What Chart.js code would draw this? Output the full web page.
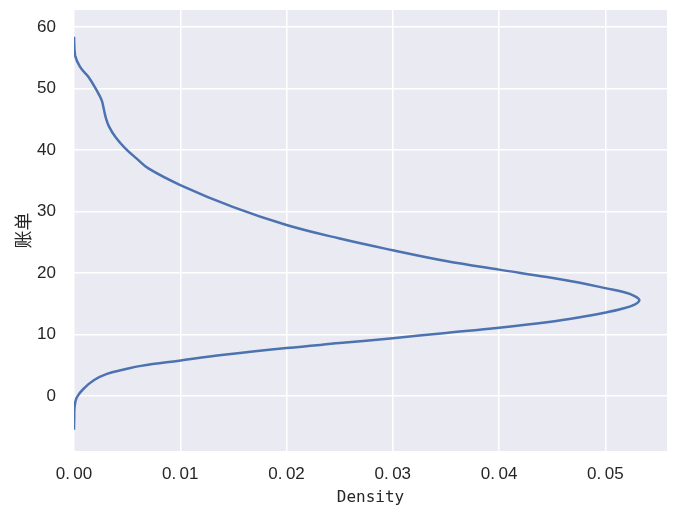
<!DOCTYPE html>
<html>
<head>
<meta charset="utf-8">
<script src="https://cdn.jsdelivr.net/npm/chart.js@4.4.1/dist/chart.umd.min.js"></script>
<style>
  html, body { margin: 0; padding: 0; background: #ffffff; }
  #wrap { width: 678px; height: 513px; }
</style>
</head>
<body>
<div id="wrap"><canvas id="c" width="678" height="513"></canvas></div>
<script>
// 账单 values (y axis) and their estimated KDE density (x axis)
const billValues = [-5.5, -3.5, -1.7, -0.2, 1.25, 2.6, 3.6, 4.3, 4.9, 5.75, 6.7, 7.8, 8.6, 9.4, 10.25, 11.1, 12.0, 12.8, 13.6, 14.1, 14.8, 15.6, 16.3, 16.9, 17.5, 18.4, 19.35, 20.55, 21.95, 23.7, 25.6, 27.8, 30.7, 34.3, 37.0, 38.6, 40.3, 42.1, 43.8, 45.2, 46.7, 48.1, 49.8, 51.9, 53.5, 55.4, 58.4];
const densityValues = [0, 0.00002, 0.00006, 0.00027, 0.00094, 0.0019, 0.0031, 0.0047, 0.0063, 0.0099, 0.0141, 0.0200, 0.0250, 0.0300, 0.0350, 0.0400, 0.0445, 0.0476, 0.0501, 0.0514, 0.0527, 0.0532, 0.0527, 0.0517, 0.0501, 0.0476, 0.0445, 0.0400, 0.0350, 0.0300, 0.0250, 0.0200, 0.0150, 0.0100, 0.0070, 0.0059, 0.0048, 0.0039, 0.0033, 0.0030, 0.0028, 0.0026, 0.0021, 0.00135, 0.00057, 0.0001, 0];
const xTickValues = [0, 0.01, 0.02, 0.03, 0.04, 0.05];
const yTickValues = [0, 10, 20, 30, 40, 50, 60];
const xTitle = 'Density';
const yTitle = '账单';

const points = billValues.map((b, i) => ({ x: densityValues[i], y: b }));

const bgPlugin = {
  id: 'plotBg',
  beforeDraw(chart) {
    const { ctx, chartArea: a } = chart;
    ctx.save();
    ctx.fillStyle = '#EAEAF2';
    ctx.fillRect(a.left, a.top, a.right - a.left, a.bottom - a.top);
    ctx.restore();
  }
};

const tickFont = { family: '"Liberation Sans", Arial, sans-serif', size: 17 };
const monoFont = { family: '"DejaVu Sans Mono", monospace', size: 16 };

new Chart(document.getElementById('c'), {
  type: 'line',
  data: {
    datasets: [{
      data: points,
      borderColor: '#4C72B0',
      borderWidth: 2.5,
      pointRadius: 0,
      fill: false,
      tension: 0.4
    }]
  },
  plugins: [bgPlugin],
  options: {
    indexAxis: 'y',
    responsive: false,
    animation: false,
    layout: { padding: { top: 10, right: 11, left: 0, bottom: 0 } },
    plugins: { legend: { display: false }, tooltip: { enabled: false } },
    scales: {
      x: {
        type: 'linear',
        min: 0,
        max: 0.0558,
        afterBuildTicks(scale) { scale.ticks = xTickValues.map(v => ({ value: v })); },
        afterFit(scale) { scale.height = 62; scale.paddingLeft = 0; scale.paddingRight = 0; },
        grid: { color: '#ffffff', lineWidth: 1.5, drawTicks: false },
        border: { display: false },
        ticks: {
          color: '#262626',
          font: tickFont,
          padding: 13,
          maxRotation: 0,
          callback: v => v.toFixed(2).replace('.', '.\u2009')
        },
        title: { display: true, text: xTitle, color: '#262626', font: monoFont, padding: { top: 0, bottom: 6 } }
      },
      y: {
        type: 'linear',
        min: -8.94,
        max: 62.76,
        afterBuildTicks(scale) { scale.ticks = yTickValues.map(v => ({ value: v })); },
        afterFit(scale) { scale.width = 74; scale.paddingTop = 0; scale.paddingBottom = 0; },
        grid: { color: '#ffffff', lineWidth: 1.5, drawTicks: false },
        border: { display: false },
        ticks: {
          color: '#262626',
          font: tickFont,
          padding: 18,
          callback: v => String(v)
        },
        title: { display: true, text: yTitle, color: '#262626', font: { family: '"Noto Sans CJK SC", sans-serif', size: 18 }, padding: { top: 12, bottom: 0 } }
      }
    }
  }
});
</script>
</body>
</html>
